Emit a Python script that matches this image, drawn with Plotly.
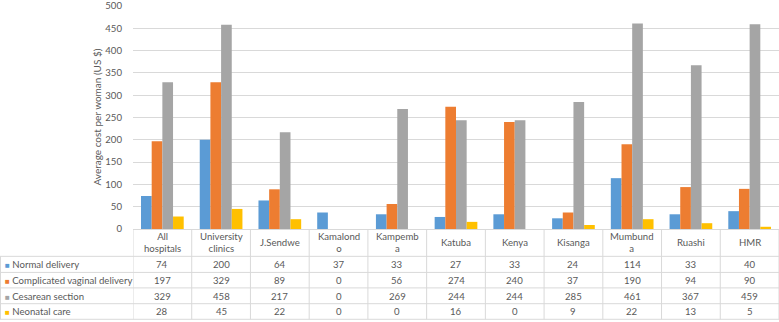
import plotly.graph_objects as go

categories = ["All hospitals", "University clinics", "J.Sendwe", "Kamalondo", "Kampemba",
              "Katuba", "Kenya", "Kisanga", "Mumbunda", "Ruashi", "HMR"]
header_labels = ["All<br>hospitals", "University<br>clinics", "J.Sendwe", "Kamalond<br>o",
                 "Kampemb<br>a", "Katuba", "Kenya", "Kisanga", "Mumbund<br>a", "Ruashi", "HMR"]
series_names = ["Normal delivery", "Complicated vaginal delivery", "Cesarean section", "Neonatal care"]
normal_delivery = [74, 200, 64, 37, 33, 27, 33, 24, 114, 33, 40]
complicated_vaginal = [197, 329, 89, 0, 56, 274, 240, 37, 190, 94, 90]
cesarean_section = [329, 458, 217, 0, 269, 244, 244, 285, 461, 367, 459]
neonatal_care = [28, 45, 22, 0, 0, 16, 0, 9, 22, 13, 5]
series_values = [normal_delivery, complicated_vaginal, cesarean_section, neonatal_care]
colors = ["#5B9BD5", "#ED7D31", "#A5A5A5", "#FFC000"]
y_ticks = [0, 50, 100, 150, 200, 250, 300, 350, 400, 450, 500]

W, H = 779, 322
ML, MR, MT, MB = 133, 0, 3, 93
PW, PH = W - ML - MR, H - MT - MB
TXT = "#595959"
LINE = "#D9D9D9"
FONT = "Lato"
FS = 9.6


def py(p):
    """pixel row -> paper y"""
    return (H - MB - p) / PH


def px(p):
    """pixel column -> paper x"""
    return (p - ML) / PW


fig = go.Figure()
for name, vals, col in zip(series_names, series_values, colors):
    fig.add_trace(go.Bar(x=categories, y=vals, name=name, marker=dict(color=col, line=dict(width=0))))

annotations = []
shapes = []

# header row labels
for cat, lab in zip(categories, header_labels):
    annotations.append(dict(x=cat, xref="x", y=py(243), yref="paper", text=lab, showarrow=False,
                            xanchor="center", yanchor="middle", font=dict(size=FS, color=TXT, family=FONT)))

row_centers = [265, 281, 297, 313]
row_lines = [256.7, 273, 288.7, 304.7, 320.5]
for name, vals, col, yc in zip(series_names, series_values, colors, row_centers):
    annotations.append(dict(x=px(3), xref="paper", y=py(yc), yref="paper",
                            text='<span style="color:%s;font-size:8px">■</span> %s' % (col, name),
                            showarrow=False, xanchor="left", yanchor="middle",
                            font=dict(size=FS, color=TXT, family=FONT)))
    for cat, v in zip(categories, vals):
        annotations.append(dict(x=cat, xref="x", y=py(yc), yref="paper", text=str(v), showarrow=False,
                                xanchor="center", yanchor="middle", font=dict(size=FS, color=TXT, family=FONT)))

for yl in row_lines:
    shapes.append(dict(type="line", xref="paper", yref="paper", x0=px(0), x1=1, y0=py(yl), y1=py(yl),
                       line=dict(color=LINE, width=1)))
for i in range(len(categories) + 1):
    shapes.append(dict(type="line", xref="x", yref="paper", x0=i - 0.5, x1=i - 0.5, y0=0, y1=py(row_lines[-1]),
                       line=dict(color=LINE, width=1)))
shapes.append(dict(type="line", xref="paper", yref="paper", x0=px(0.5), x1=px(0.5), y0=py(row_lines[0]),
                   y1=py(row_lines[-1]), line=dict(color=LINE, width=1)))

annotations.append(dict(x=px(96), xref="paper", y=0.5, yref="paper", text="Average cost per woman (US $)",
                        textangle=-90, showarrow=False, xanchor="center", yanchor="middle",
                        font=dict(size=10, color=TXT, family=FONT)))

fig.update_layout(
    width=W, height=H,
    margin=dict(l=ML, r=MR, t=MT, b=MB, pad=0),
    paper_bgcolor="white", plot_bgcolor="white",
    barmode="group", bargap=0.273, bargroupgap=0,
    showlegend=False,
    font=dict(family=FONT, color=TXT, size=FS),
    xaxis=dict(showticklabels=False, showgrid=False, zeroline=False, showline=False, ticks="",
               range=[-0.5, 10.5]),
    yaxis=dict(range=[0, 500.01], tickvals=y_ticks, showgrid=True, gridcolor=LINE, gridwidth=1,
               zeroline=True, zerolinecolor=LINE, zerolinewidth=1, showline=False, ticks="",
               ticklabelstandoff=10, ticklabeloverflow="allow",
               tickfont=dict(size=FS, color=TXT, family=FONT)),
    annotations=annotations,
    shapes=shapes,
)

fig.write_html("out.html", config={"displayModeBar": False},
               post_script="document.body.style.margin='0';document.body.style.padding='0';")
